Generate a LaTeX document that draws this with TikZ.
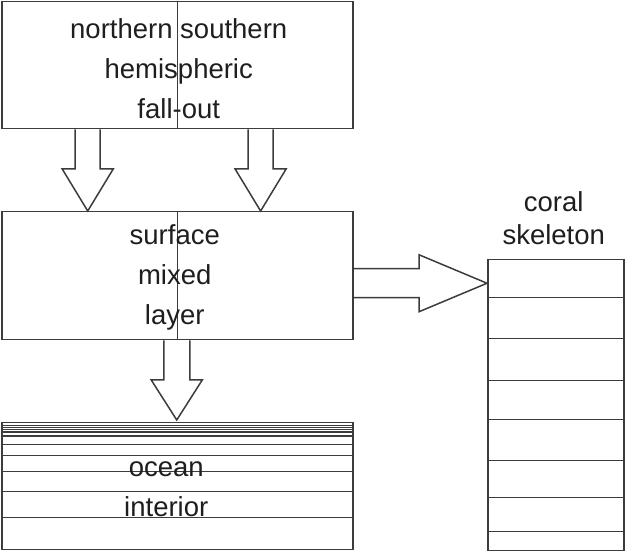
\documentclass[tikz,border=0pt]{standalone}
\usepackage{fontspec}
\setmainfont{Liberation Sans}
\usetikzlibrary{calc,positioning}

\definecolor{linegray}{HTML}{3C3C3C}
\definecolor{textgray}{HTML}{1E1E1E}

\tikzset{
  box/.style={draw=linegray, line width=1.5pt, inner sep=0pt, anchor=north west},
  lbl/.style={font=\fontsize{27.5}{40}\selectfont, text=textgray, align=center, inner sep=0pt},
  layer/.style={draw=linegray, line width=1.4pt},
  blockarrow/.style={draw=linegray, line width=1.5pt, line join=miter}
}

% block arrow: from, to, shaft half width, head half width, head length
\newcommand{\fatarrow}[5]{%
  \coordinate (hb) at ($(#2)!#5!(#1)$);
  \draw[blockarrow] ($(#1)!#3!90:(#2)$) -- ($(hb)!#3!90:(#2)$) -- ($(hb)!#4!90:(#2)$)
    -- (#2) -- ($(hb)!#4!-90:(#2)$) -- ($(hb)!#3!-90:(#2)$) -- ($(#1)!#3!-90:(#2)$);
}

\begin{document}
\begin{tikzpicture}[x=1pt,y=1pt]
\useasboundingbox (0,0) rectangle (625,552);

% boxes
\node[box, minimum width=351pt, minimum height=127pt] (fallout) at (1,551) {};
\node[box, minimum width=351pt, minimum height=128pt] (mixed) at (1,341) {};
\node[box, minimum width=351pt, minimum height=127pt] (ocean) at (1,130) {};
\node[box, minimum width=136pt, minimum height=291pt] (coral) at (487,293) {};

% split lines
\draw[layer] (fallout.north) -- (fallout.south);
\draw[layer] (mixed.north) -- (mixed.south);

% layers of the ocean interior
\foreach \h in {125,123,121,118.5,114.5,106,95,79,59,33}
  \draw[layer] (ocean.south west) ++(0,\h) -- ++(351,0);

% bands of the coral skeleton
\foreach \h in {254,213,171,132,91,54,20}
  \draw[layer] (coral.south west) ++(0,\h) -- ++(136,0);

% labels
\node[lbl] (falloutlbl) at ($(fallout.center)+(1.5,-3.5)$) {northern southern\\hemispheric\\fall-out};
\node[lbl] (mixedlbl) at ($(mixed.center)+(-2.5,-2)$) {surface\\mixed\\layer};
\node[lbl] (oceanlbl) at ($(ocean.center)+(-11,-3)$) {ocean\\interior};
\node[lbl, font=\fontsize{27.5}{33}\selectfont, above=14pt of coral, xshift=-2pt] (corallbl) {coral\\skeleton};

% arrows
\coordinate (nstart) at ($(fallout.south west)!.246!(fallout.south east)$);
\coordinate (nend) at (nstart |- mixed.north);
\coordinate (sstart) at ($(fallout.south west)!.7365!(fallout.south east)$);
\coordinate (send) at (sstart |- mixed.north);
\coordinate (ostart) at ($(mixed.south)+(-0.5,0)$);
\coordinate (oend) at ($(ocean.north)+(-0.5,2)$);
\coordinate (cstart) at ($(mixed.east)+(0,-7.5)$);
\coordinate (cend) at (cstart -| coral.west);

\fatarrow{nstart}{nend}{12.5pt}{25.5pt}{42pt}
\fatarrow{sstart}{send}{12.5pt}{25.5pt}{42pt}
\fatarrow{ostart}{oend}{13pt}{25.5pt}{40pt}
\fatarrow{cstart}{cend}{14.5pt}{28.5pt}{68pt}

\end{tikzpicture}
\end{document}
